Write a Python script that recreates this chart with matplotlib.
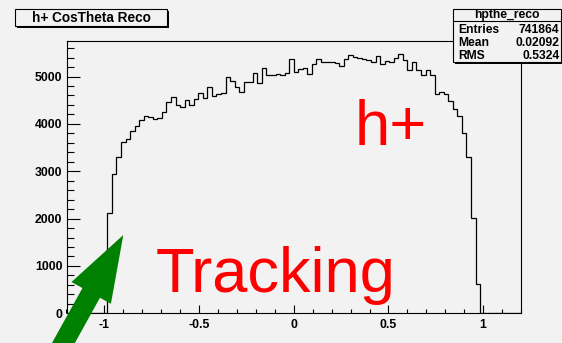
import matplotlib
matplotlib.use('Agg')
import matplotlib.pyplot as plt
import numpy as np
from matplotlib.patches import Rectangle, Polygon
from matplotlib.ticker import MultipleLocator

# ---- data ----
x_range = (-1.2, 1.2)
n_bins = 100
counts = [0] * 9 + [
    2114, 2945, 3298, 3607, 3691, 3839, 3953, 4087, 4157, 4144,
    4108, 4129, 4249, 4453, 4558, 4404, 4361, 4495, 4404, 4531,
    4651, 4545, 4784, 4594, 4622, 4657, 4981, 4897, 4770, 4672,
    4884, 4884, 5066, 4855, 5171, 5032, 5032, 5044, 5032, 5066,
    5376, 5095, 5158, 5172, 5045, 5271, 5376, 5299, 5299, 5299,
    5285, 5214, 5376, 5454, 5412, 5390, 5376, 5355, 5299, 5426,
    5264, 5320,
    5299, 5391, 5476, 5355, 5129, 5299, 5144, 5024, 5129, 5038,
    4636, 4664, 4636, 4488, 4313, 4171, 3805, 3290, 2008, 613,
] + [0] * 9
x_ticks = [-1, -0.5, 0, 0.5, 1]
x_tick_labels = ["-1", "-0.5", "0", "0.5", "1"]
y_ticks = [0, 1000, 2000, 3000, 4000, 5000]
y_tick_labels = ["0", "1000", "2000", "3000", "4000", "5000"]
title = "h+ CosTheta Reco"
stats_name = "hpthe_reco"
stats_labels = ["Entries", "Mean", "RMS"]
stats_values = ["741864", "0.02092", "0.5324"]

W, H = 562, 343
BG = '#f2f2f2'
FONT = 'Liberation Sans'

fig = plt.figure(figsize=(W / 100, H / 100), dpi=100, facecolor=BG)


def fx(x):
    return x / W


def fy(y):
    return 1 - y / H


ax_l, ax_r, ax_t, ax_b = 66.5, 521.0, 41.0, 313.3
ax = fig.add_axes([fx(ax_l), fy(ax_b), fx(ax_r - ax_l), (ax_b - ax_t) / H])
ax.set_facecolor(BG)

edges = np.linspace(x_range[0], x_range[1], n_bins + 1)
ax.stairs(counts, edges, color='black', lw=0.9, baseline=0)
ax.set_xlim(*x_range)
ax.set_ylim(0, 1.05 * max(counts))

ax.set_xticks(x_ticks)
ax.set_xticklabels(x_tick_labels)
ax.set_yticks(y_ticks)
ax.set_yticklabels(y_tick_labels)
ax.xaxis.set_minor_locator(MultipleLocator(0.1))
ax.yaxis.set_minor_locator(MultipleLocator(200))
ax.tick_params(axis='x', which='major', direction='in', length=6, width=0.8, pad=4)
ax.tick_params(axis='x', which='minor', direction='in', length=3, width=0.8)
ax.tick_params(axis='y', which='major', direction='in', length=9.6, width=0.8, pad=3)
ax.tick_params(axis='y', which='minor', direction='in', length=4.8, width=0.8)
for lab in ax.get_xticklabels() + ax.get_yticklabels():
    lab.set_fontfamily(FONT)
    lab.set_fontweight('bold')
    lab.set_fontsize(8.8)
for sp in ax.spines.values():
    sp.set_linewidth(0.8)
    sp.set_color('black')

# red annotations
fig.text(fx(355), fy(145), "h+", color='#ff0000', fontsize=45.5, family=FONT,
         ha='left', va='baseline')
fig.text(fx(156), fy(291.7), "Tracking", color='#ff0000', fontsize=45.5, family=FONT,
         ha='left', va='baseline')

# green arrow (annotation)
arrow_pts = [(123.3, 235.0), (110.9, 303.8), (99.95, 297.75), (51.45, 385.25),
             (33.95, 375.55), (82.45, 288.05), (71.5, 282.0)]
fig.add_artist(Polygon([(fx(a), fy(b)) for a, b in arrow_pts], closed=True,
                       transform=fig.transFigure, facecolor='#008000',
                       edgecolor='none', zorder=10))


def pave(x0, y0, x1, y1, shadow=2.0):
    fig.add_artist(Rectangle((fx(x0 + shadow), fy(y1 + shadow)), fx(x1 - x0), (y1 - y0) / H,
                             transform=fig.transFigure, facecolor='black',
                             edgecolor='none', zorder=11))
    fig.add_artist(Rectangle((fx(x0), fy(y1)), fx(x1 - x0), (y1 - y0) / H,
                             transform=fig.transFigure, facecolor=BG,
                             edgecolor='black', lw=0.8, zorder=12))


# title box
pave(15, 9.3, 166.5, 25.5)
fig.text(fx(91), fy(17.6), title, ha='center', va='center', family=FONT,
         fontweight='bold', fontsize=9.8, zorder=13)

# stats box
pave(452.7, 9.3, 560.5, 61.5)
fig.add_artist(plt.Line2D([fx(452.7), fx(560.5)], [fy(20.7), fy(20.7)],
                          transform=fig.transFigure, color='black', lw=0.8, zorder=13))
fig.text(fx(506.5), fy(15), stats_name, ha='center', va='center', family=FONT,
         fontweight='bold', fontsize=8.7, zorder=13)
row_y = [30, 43.3, 56]
for lab, val, yy in zip(stats_labels, stats_values, row_y):
    fig.text(fx(458), fy(yy), lab, ha='left', va='center', family=FONT,
             fontweight='bold', fontsize=8.7, zorder=13)
    fig.text(fx(559.5), fy(yy), val, ha='right', va='center', family=FONT,
             fontweight='bold', fontsize=8.7, zorder=13)

fig.savefig('out.png', dpi=100, facecolor=BG)
